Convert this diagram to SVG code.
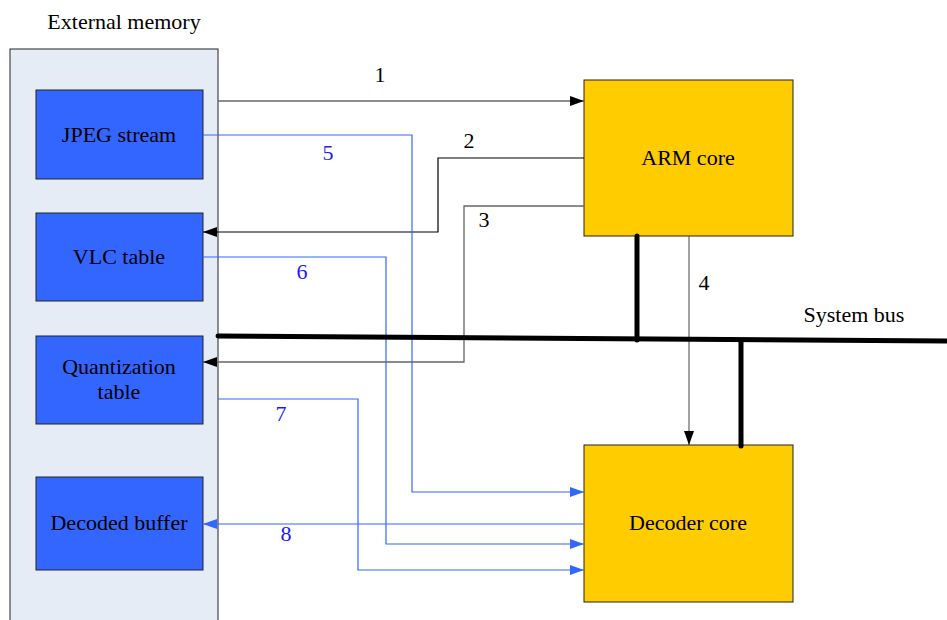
<svg xmlns="http://www.w3.org/2000/svg" width="947" height="620" viewBox="0 0 947 620">
<defs>
<style>
text{font-family:"Liberation Serif","Times New Roman",serif;font-size:22px;fill:#000}
.c{text-anchor:middle}
.bl{fill:#1a1aff}
.mem{fill:#3366ff;stroke:#222;stroke-width:1}
.core{fill:#ffcc00;stroke:#222;stroke-width:1}
.k{fill:none;stroke:#000;stroke-width:1.2}
.g{fill:none;stroke:#666;stroke-width:1.5}
.b{fill:none;stroke:#3366ff;stroke-width:1.2}
.bus{fill:none;stroke:#000;stroke-width:5;stroke-linecap:round}
</style>
<marker id="ak" viewBox="0 0 14 10" refX="14" refY="5" markerWidth="14" markerHeight="10" markerUnits="userSpaceOnUse" orient="auto"><path d="M0,0L14,5L0,10z" fill="#000"/></marker>
<marker id="ab" viewBox="0 0 14 10" refX="14" refY="5" markerWidth="14" markerHeight="10" markerUnits="userSpaceOnUse" orient="auto"><path d="M0,0L14,5L0,10z" fill="#3366ff"/></marker>
</defs>
<rect width="947" height="620" fill="#fff"/>
<g id="external-memory">
<rect x="10" y="49" width="208" height="580" fill="#e6ecf6" stroke="#222" stroke-width="1"/>
<text x="124" y="29" class="c">External memory</text>
</g>
<g id="jpeg-stream"><rect class="mem" x="36" y="90" width="167" height="89"/><text x="119" y="142" class="c">JPEG stream</text></g>
<g id="vlc-table"><rect class="mem" x="36" y="213" width="167" height="88"/><text x="119" y="264" class="c">VLC table</text></g>
<g id="quantization-table"><rect class="mem" x="36" y="336" width="167" height="88"/><text x="119" y="374" class="c">Quantization</text><text x="119" y="399" class="c">table</text></g>
<g id="decoded-buffer"><rect class="mem" x="36" y="477" width="167" height="93"/><text x="119" y="530" class="c">Decoded buffer</text></g>
<g id="arm-core"><rect class="core" x="584" y="80" width="209" height="156"/><text x="688" y="165" class="c">ARM core</text></g>
<g id="decoder-core"><rect class="core" x="584" y="445" width="209" height="157"/><text x="688" y="530" class="c">Decoder core</text></g>
<g id="connectors">
<path class="g" d="M218,101H584" marker-end="url(#ak)"/>
<path class="k" d="M584,158H438V232H203" marker-end="url(#ak)"/>
<path class="g" d="M584,206H464V362H203" marker-end="url(#ak)" style="stroke-width:1.3"/>
<path class="b" d="M203,135H412V492H584" marker-end="url(#ab)"/>
<path class="b" d="M203,257H386V544H584" marker-end="url(#ab)"/>
<path class="b" d="M218,399H358V570H584" marker-end="url(#ab)"/>
<path class="b" d="M584,524H203" marker-end="url(#ab)"/>
<path class="k" d="M689,236V445" marker-end="url(#ak)" style="stroke:#444;stroke-width:1"/>
<path class="bus" d="M218,336L947,341"/>
<path class="bus" d="M637,236V340"/>
<path class="bus" d="M741,341V446"/>
<text x="380" y="82" class="c">1</text>
<text x="469" y="148" class="c">2</text>
<text x="484" y="227" class="c">3</text>
<text x="704" y="290" class="c">4</text>
<text x="328" y="160" class="c bl">5</text>
<text x="302" y="279" class="c bl">6</text>
<text x="281" y="421" class="c bl">7</text>
<text x="286" y="541" class="c bl">8</text>
<text x="854" y="322" class="c">System bus</text>
</g>
</svg>
